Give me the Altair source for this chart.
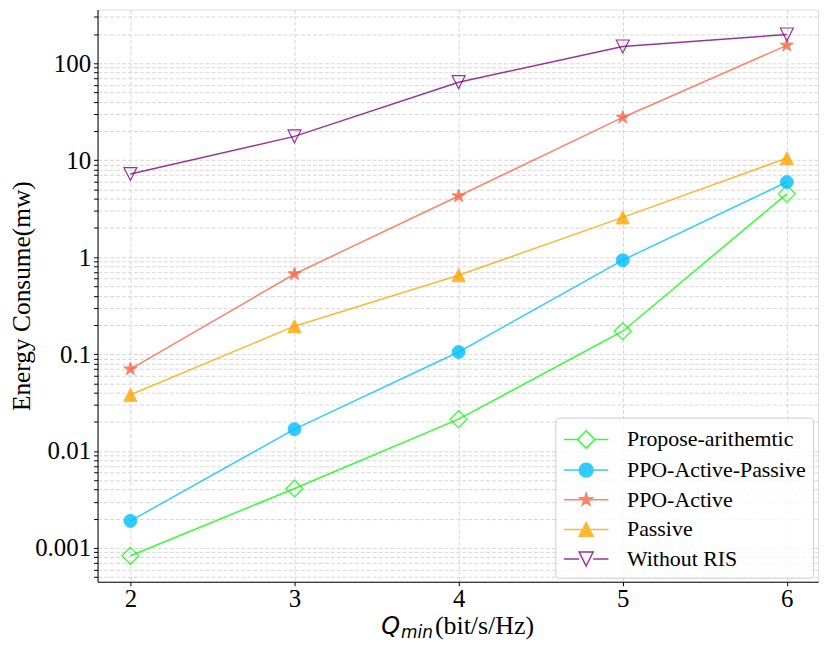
import altair as alt
import pandas as pd

# ---- data ----
q_min = [2, 3, 4, 5, 6]
series_names = ["Propose-arithemtic", "PPO-Active-Passive", "PPO-Active", "Passive", "Without RIS"]
propose = [0.00083, 0.0041, 0.0213, 0.172, 4.5]
ppo_active_passive = [0.0019, 0.0168, 0.105, 0.93, 5.95]
ppo_active = [0.070, 0.67, 4.27, 27.6, 153]
passive = [0.038, 0.194, 0.65, 2.57, 10.5]
without_ris = [7.2, 17.6, 63.8, 149, 198]
all_values = [propose, ppo_active_passive, ppo_active, passive, without_ris]

y_tick_values = [0.0005, 0.0006, 0.0007, 0.0008, 0.0009,
                 0.001, 0.002, 0.003, 0.004, 0.005, 0.006, 0.007, 0.008, 0.009,
                 0.01, 0.02, 0.03, 0.04, 0.05, 0.06, 0.07, 0.08, 0.09,
                 0.1, 0.2, 0.3, 0.4, 0.5, 0.6, 0.7, 0.8, 0.9,
                 1, 2, 3, 4, 5, 6, 7, 8, 9,
                 10, 20, 30, 40, 50, 60, 70, 80, 90,
                 100, 200, 300]
x_tick_values = [2, 3, 4, 5, 6]

# ---- styles ----
colors = ["#00ff00", "#00bfff", "#ff6347", "#ffa500", "#800080"]
filled = [False, True, True, True, False]
STAR = ("M0,-1L0.2245,-0.309L0.951,-0.309L0.363,0.118L0.588,0.809L0,0.382"
        "L-0.588,0.809L-0.363,0.118L-0.951,-0.309L-0.2245,-0.309Z")
point_shapes = ["diamond", "circle", STAR, "M0,-1L1,1L-1,1Z", "M0,1L1,-1L-1,-1Z"]
point_sizes = [289, 169, 196, 174, 169]

legend_paths = [
    "M-1.6,0L-0.62,0M0.62,0L1.6,0M-0.62,0L0,-0.62L0.62,0L0,0.62Z",
    "M-1.6,0L1.6,0M-0.5,0A0.5,0.5,0,1,1,0.5,0A0.5,0.5,0,1,1,-0.5,0Z",
    "M-1.6,0L1.6,0M0,-0.47L0.1055,-0.145L0.447,-0.145L0.171,0.0555L0.276,0.38L0,0.18"
    "L-0.276,0.38L-0.171,0.0555L-0.447,-0.145L-0.1055,-0.145Z",
    "M-1.6,0L1.6,0M0,-0.5L0.5,0.5L-0.5,0.5Z",
    "M-1.6,0L-0.5,0M0.5,0L1.6,0M0,0.5L0.5,-0.5L-0.5,-0.5Z",
]
legend_fills = ["transparent", colors[1], colors[2], colors[3], "transparent"]

rows = []
for name, vals in zip(series_names, all_values):
    for qq, v in zip(q_min, vals):
        rows.append({"q": qq, "value": v, "series": name})
df = pd.DataFrame(rows)

SERIF = "Liberation Serif"

x_enc = alt.X("q:Q",
              scale=alt.Scale(domain=[1.8, 6.19], nice=False, zero=False),
              axis=alt.Axis(values=x_tick_values, format="d", title=None,
                            labelFont=SERIF, labelFontSize=25, labelColor="black",
                            tickSize=4, tickColor="black", labelPadding=1,
                            domainColor="black", grid=True, gridDash=[4, 2],
                            gridColor="#cccccc", gridWidth=0.8))
y_enc = alt.Y("value:Q",
              scale=alt.Scale(type="log", domain=[0.000448, 358], nice=False),
              axis=alt.Axis(values=y_tick_values, format="~g",
                            labelExpr="abs(log(datum.value)/LN10 - round(log(datum.value)/LN10)) < 1e-6 ? datum.label : ''",
                            labelOverlap=False, title="Energy Consume(mw)",
                            titleFont=SERIF, titleFontSize=25.5, titleFontWeight="normal",
                            titleColor="black", titlePadding=0,
                            labelFont=SERIF, labelFontSize=25, labelColor="black",
                            tickSize=4, tickColor="black", labelPadding=3,
                            domainColor="black", grid=True, gridDash=[4, 2],
                            gridColor="#cccccc", gridWidth=0.8))

base = alt.Chart(df)
layers = []
for i, name in enumerate(series_names):
    sub = base.transform_filter(alt.datum.series == name)
    layers.append(sub.mark_line(color=colors[i], strokeWidth=1.5, opacity=0.8).encode(x=x_enc, y=y_enc))
    if filled[i]:
        pt = sub.mark_point(shape=point_shapes[i], size=point_sizes[i], filled=True,
                            color=colors[i], stroke=colors[i], strokeWidth=1, opacity=0.8)
    else:
        pt = sub.mark_point(shape=point_shapes[i], size=point_sizes[i], filled=False,
                            color=colors[i], strokeWidth=1.2, opacity=0.8)
    layers.append(pt.encode(x=x_enc, y=y_enc))

leg = alt.Legend(title=None, orient="none", legendX=460, legendY=410,
                 labelFont=SERIF, labelFontSize=22, labelColor="black", labelLimit=300,
                 symbolSize=784, symbolStrokeWidth=1.5, symbolOpacity=0.8,
                 symbolOffset=9, labelOffset=26, padding=7, rowPadding=3.8,
                 strokeColor="#cccccc", fillColor="rgba(255,255,255,0.8)", cornerRadius=4)
legend_layer = base.transform_filter("false").mark_point(strokeWidth=1.5).encode(
    x=x_enc, y=y_enc,
    shape=alt.Shape("series:N", scale=alt.Scale(domain=series_names, range=legend_paths), legend=leg),
    color=alt.Color("series:N", scale=alt.Scale(domain=series_names, range=colors), legend=leg),
    fill=alt.Fill("series:N", scale=alt.Scale(domain=series_names, range=legend_fills), legend=leg),
)
layers.append(legend_layer)

one = alt.Data(values=[{"a": 1}])
t_q = alt.Chart(one).mark_text(text="Q", font="DejaVu Sans", fontStyle="italic", fontSize=24,
                               align="left", baseline="alphabetic", color="black").encode(
    x=alt.value(285), y=alt.value(628))
t_min = alt.Chart(one).mark_text(text="min", font="DejaVu Sans", fontStyle="italic", fontSize=17,
                                 align="left", baseline="alphabetic", color="black").encode(
    x=alt.value(305), y=alt.value(632))
t_unit = alt.Chart(one).mark_text(text="(bit/s/Hz)", font=SERIF, fontSize=26,
                                  align="left", baseline="alphabetic", color="black").encode(
    x=alt.value(339), y=alt.value(628))
layers += [t_q, t_min, t_unit]

chart = alt.layer(*layers).properties(
    width=724, height=575,
    autosize=alt.AutoSizeParams(type="none"),
    padding={"left": 90, "top": 0, "right": 5, "bottom": 62},
).configure_view(stroke="black", strokeWidth=1).configure(background="white")

chart.save("out.html", embed_options={"renderer": "svg", "actions": False})
